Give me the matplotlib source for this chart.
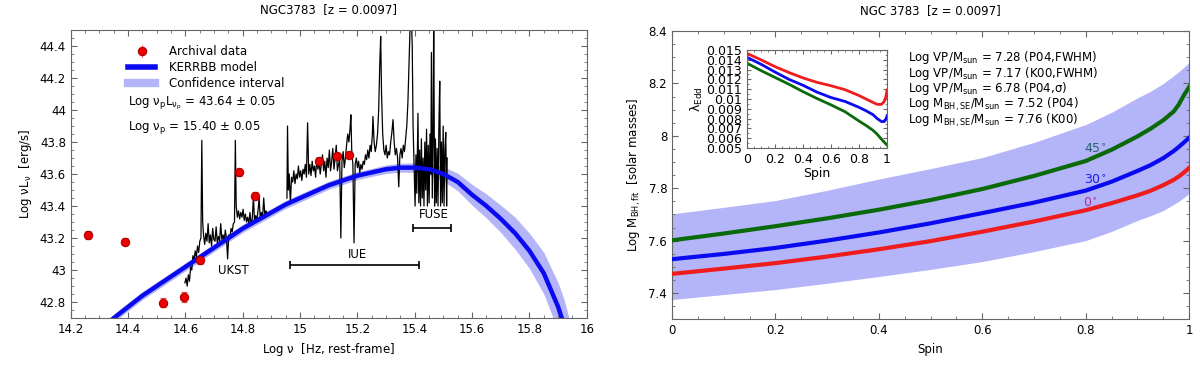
import numpy as np
import matplotlib
matplotlib.use('Agg')
import matplotlib.pyplot as plt
from matplotlib.ticker import MultipleLocator, FormatStrFormatter
from matplotlib.lines import Line2D

plt.rcParams['font.family'] = ['DejaVu Sans']
plt.rcParams['mathtext.default'] = 'regular'

# ---- left panel data: SED of NGC3783 ----
arch_x = [14.26, 14.39, 14.522, 14.595, 14.652, 14.785, 14.843, 15.066, 15.129, 15.17]
arch_y = [43.22, 43.177, 42.796, 42.83, 43.06, 43.61, 43.465, 43.68, 43.71, 43.72]
arch_err = [0.025, 0.022, 0.03, 0.03, 0.02, 0.02, 0.02, 0.015, 0.015, 0.015]

model_x = [14.30, 14.35, 14.40, 14.45, 14.50, 14.55, 14.60, 14.65, 14.70, 14.75,
           14.80, 14.85, 14.90, 14.95, 15.00, 15.05, 15.10, 15.15, 15.20, 15.25,
           15.30, 15.35, 15.40, 15.45, 15.50, 15.55, 15.60, 15.65, 15.70, 15.75,
           15.80, 15.85, 15.90, 15.92, 15.95]
model_y = [42.62, 42.70, 42.77, 42.84, 42.90, 42.96, 43.02, 43.08, 43.14, 43.20,
           43.26, 43.31, 43.36, 43.41, 43.45, 43.49, 43.53, 43.56, 43.59, 43.61,
           43.63, 43.64, 43.64, 43.63, 43.60, 43.55, 43.47, 43.40, 43.32, 43.23,
           43.12, 42.98, 42.77, 42.66, 42.45]
band_hw = [0.025, 0.025, 0.025, 0.025, 0.025, 0.025, 0.025, 0.025, 0.025, 0.025,
           0.025, 0.025, 0.025, 0.025, 0.025, 0.025, 0.025, 0.025, 0.025, 0.025,
           0.027, 0.028, 0.03, 0.035, 0.045, 0.055, 0.065, 0.075, 0.085, 0.10,
           0.11, 0.13, 0.15, 0.16, 0.17]

ukst_x = [14.598, 14.602, 14.606, 14.610, 14.614, 14.618, 14.622, 14.626, 14.630, 14.634,
          14.638, 14.642, 14.646, 14.650, 14.654, 14.657, 14.660, 14.663, 14.667, 14.671,
          14.675, 14.679, 14.683, 14.687, 14.691, 14.695, 14.699, 14.703, 14.707, 14.711,
          14.715, 14.719, 14.723, 14.727, 14.731, 14.735, 14.739, 14.743, 14.747, 14.751,
          14.755, 14.759, 14.763, 14.767, 14.771, 14.774, 14.777, 14.781, 14.785, 14.789,
          14.793, 14.797, 14.801, 14.805, 14.809, 14.813, 14.817, 14.821, 14.825, 14.829,
          14.833, 14.837, 14.841, 14.845, 14.849, 14.853, 14.857, 14.861, 14.865, 14.869,
          14.873, 14.877, 14.881, 14.885]
ukst_y = [42.92, 42.95, 42.90, 42.97, 42.93, 43.02, 43.00, 43.09, 43.06, 43.12,
          43.08, 43.15, 43.11, 43.18, 43.20, 43.81, 43.30, 43.22, 43.16, 43.23,
          43.18, 43.29, 43.17, 43.22, 43.15, 43.26, 43.19, 43.18, 43.27, 43.17,
          43.21, 43.18, 43.29, 43.19, 43.22, 43.18, 43.25, 43.20, 43.07, 43.22,
          43.20, 43.26, 43.24, 43.29, 43.30, 43.81, 43.40, 43.33, 43.37, 43.32,
          43.36, 43.33, 43.38, 43.31, 43.35, 43.30, 43.33, 43.29, 43.36, 43.28,
          43.32, 43.46, 43.30, 43.34, 43.31, 43.37, 43.45, 43.32, 43.36, 43.33,
          43.45, 43.34, 43.37, 43.35]

uv_x = [14.954, 14.956, 14.959, 14.962, 14.966, 14.970, 14.974, 14.978, 14.982, 14.986,
        14.990, 14.994, 14.998, 15.002, 15.006, 15.010, 15.014, 15.018, 15.022, 15.026,
        15.030, 15.034, 15.038, 15.042, 15.046, 15.050, 15.054, 15.058, 15.062, 15.066,
        15.070, 15.074, 15.078, 15.082, 15.086, 15.090, 15.094, 15.098, 15.102, 15.106,
        15.110, 15.114, 15.118, 15.122, 15.126, 15.130, 15.134, 15.138, 15.142, 15.146,
        15.150, 15.154, 15.158, 15.162, 15.166, 15.170, 15.174, 15.177, 15.180, 15.184,
        15.188, 15.192, 15.196, 15.200, 15.204, 15.208, 15.212, 15.216, 15.220, 15.224,
        15.228, 15.232, 15.236, 15.240, 15.244, 15.248, 15.252, 15.254, 15.258, 15.262,
        15.266, 15.270, 15.274, 15.278, 15.281, 15.284, 15.288, 15.292, 15.296, 15.300,
        15.304, 15.308, 15.312, 15.316, 15.320, 15.324, 15.328, 15.332, 15.336, 15.340,
        15.344, 15.348, 15.352, 15.356, 15.360, 15.364, 15.368, 15.372, 15.376, 15.380,
        15.384, 15.388, 15.391, 15.394, 15.398,
        15.401, 15.404, 15.407, 15.411, 15.414, 15.417, 15.420, 15.423, 15.426, 15.429,
        15.432, 15.435, 15.438, 15.441, 15.444, 15.447, 15.450, 15.453, 15.456, 15.458,
        15.461, 15.464, 15.466, 15.469, 15.472, 15.475, 15.478, 15.481, 15.484, 15.487,
        15.490, 15.493, 15.496, 15.499, 15.502, 15.505, 15.508, 15.511, 15.513]
uv_y = [43.45, 43.90, 43.50, 43.60, 43.42, 43.58, 43.55, 43.62, 43.54, 43.60,
        43.57, 43.65, 43.58, 43.62, 43.56, 43.63, 43.60, 43.66, 43.58, 43.92,
        43.60, 43.66, 43.59, 43.68, 43.62, 43.65, 43.58, 43.70, 43.63, 43.68,
        43.60, 43.66, 43.72, 43.62, 43.68, 43.58, 43.70, 43.64, 43.75, 43.62,
        43.68, 43.76, 43.63, 43.70, 43.78, 43.62, 43.66, 43.70, 43.20, 43.68,
        43.74, 43.64, 43.70, 43.78, 43.85, 43.80, 43.88, 43.97, 43.75, 43.66,
        43.17, 43.66, 43.70, 43.64, 43.68, 43.61, 43.66, 43.63, 43.68, 43.66,
        43.72, 43.69, 43.75, 43.70, 43.78, 43.74, 43.85, 43.96, 43.80, 43.74,
        43.78, 43.85, 44.00, 44.30, 44.46, 44.10, 43.85, 43.75, 43.72, 43.78,
        43.70, 43.74, 43.72, 43.80, 43.86, 43.94, 43.80, 43.72, 43.76, 43.70,
        43.52, 43.72, 43.76, 43.70, 43.78, 43.74, 43.82, 43.90, 44.05, 44.30,
        44.55, 44.60, 44.40, 43.90, 43.60,
        43.40, 43.72, 43.48, 43.98, 43.42, 43.75, 43.40, 43.82, 43.45, 43.70,
        43.40, 43.80, 43.50, 43.88, 43.40, 43.78, 43.42, 43.85, 43.60, 44.36,
        43.45, 43.90, 44.60, 43.40, 43.82, 43.42, 43.76, 43.40, 43.90, 44.18,
        43.40, 43.80, 43.42, 43.90, 43.40, 43.75, 43.86, 43.40, 43.70]

# ---- right panel data: BH mass vs spin ----
spin_band = [0, 0.1, 0.2, 0.3, 0.4, 0.5, 0.6, 0.7, 0.8, 0.85, 0.9, 0.925, 0.95, 0.98, 1.0]
band_up = [7.702, 7.727, 7.753, 7.792, 7.835, 7.875, 7.917, 7.975, 8.043, 8.09, 8.145, 8.17,
           8.20, 8.245, 8.28]
band_lo = [7.375, 7.394, 7.413, 7.437, 7.463, 7.49, 7.52, 7.558, 7.60, 7.635, 7.677, 7.695,
           7.715, 7.75, 7.78]

spin = [0, 0.1, 0.2, 0.3, 0.4, 0.5, 0.6, 0.7, 0.8, 0.85, 0.9, 0.925, 0.95, 0.97, 0.98, 0.99, 1.0]
mass_0 = [7.473, 7.493, 7.514, 7.539, 7.567, 7.598, 7.634, 7.673, 7.716, 7.743, 7.773, 7.79,
          7.812, 7.832, 7.845, 7.86, 7.878]
mass_30 = [7.529, 7.549, 7.572, 7.600, 7.631, 7.666, 7.705, 7.745, 7.791, 7.825, 7.866, 7.888,
           7.915, 7.942, 7.958, 7.975, 7.993]
mass_45 = [7.601, 7.627, 7.655, 7.685, 7.718, 7.755, 7.797, 7.847, 7.904, 7.947, 7.998, 8.027,
           8.06, 8.093, 8.12, 8.156, 8.187]

spin_in = [0, 0.1, 0.2, 0.3, 0.4, 0.5, 0.6, 0.7, 0.8, 0.85, 0.9, 0.93, 0.96, 0.98, 0.99, 1.0]
edd_0 = [0.01465, 0.01400, 0.01330, 0.01270, 0.01215, 0.01170, 0.01135, 0.01095, 0.01035, 0.01000,
         0.00965, 0.00945, 0.00945, 0.00975, 0.01010, 0.01090]
edd_30 = [0.01425, 0.01355, 0.01275, 0.01200, 0.01140, 0.01070, 0.01015, 0.00975, 0.00915, 0.00880,
          0.00840, 0.00800, 0.00770, 0.00770, 0.00790, 0.00825]
edd_45 = [0.01365, 0.01290, 0.01220, 0.01150, 0.01075, 0.01005, 0.00940, 0.00870, 0.00775, 0.00730,
          0.00680, 0.00640, 0.00590, 0.00560, 0.00545, 0.00530]

vp_lines = [r'Log VP/M$_{\rm sun}$ = 7.28 (P04,FWHM)',
            r'Log VP/M$_{\rm sun}$ = 7.17 (K00,FWHM)',
            r'Log VP/M$_{\rm sun}$ = 6.78 (P04,σ)',
            r'Log M$_{\rm BH,SE}$/M$_{\rm sun}$ = 7.52 (P04)',
            r'Log M$_{\rm BH,SE}$/M$_{\rm sun}$ = 7.76 (K00)']

band_col = '#b4b4f8'
blue = '#0a0af0'
red = '#ee1c1c'
green = '#0a6a0a'
spine_col = '#666666'


def style_axes(ax, xmaj, xmin, ymaj, ymin, fs=8.5):
    ax.xaxis.set_major_locator(MultipleLocator(xmaj))
    ax.xaxis.set_minor_locator(MultipleLocator(xmin))
    ax.yaxis.set_major_locator(MultipleLocator(ymaj))
    ax.yaxis.set_minor_locator(MultipleLocator(ymin))
    ax.xaxis.set_major_formatter(FormatStrFormatter('%g'))
    ax.yaxis.set_major_formatter(FormatStrFormatter('%g'))
    ax.tick_params(which='both', direction='in', top=True, right=True, colors=spine_col,
                   labelcolor='black', labelsize=fs)
    ax.tick_params(which='major', length=4)
    ax.tick_params(which='minor', length=2)
    for s in ax.spines.values():
        s.set_color(spine_col)


fig = plt.figure(figsize=(12, 3.66), dpi=100)

# ---------------- left panel ----------------
ax1 = fig.add_axes([0.059, 0.131, 0.43, 0.787])
mx = np.array(model_x)
my = np.array(model_y)
hw = np.array(band_hw)
ax1.fill_between(mx, my - hw, my + hw, color=band_col, lw=0, zorder=1)
ax1.plot(ukst_x, ukst_y, color='black', lw=0.9, zorder=2)
ax1.plot(uv_x, uv_y, color='black', lw=0.9, zorder=2)
ax1.plot(mx, my, color=blue, lw=3.2, zorder=3)
ax1.errorbar(arch_x, arch_y, yerr=arch_err, fmt='o', ms=6, mfc='#ee0000', mec='#aa0000',
             mew=0.8, ecolor='#ff4444', elinewidth=0.8, capsize=2, zorder=5)

# instrument coverage bars
ax1.errorbar([15.19], [43.03], xerr=[[0.225]], fmt='none', ecolor='black', elinewidth=1.2,
             capsize=3, capthick=1.2)
ax1.errorbar([15.46], [43.265], xerr=[[0.065]], fmt='none', ecolor='black', elinewidth=1.2,
             capsize=3, capthick=1.2)
ax1.text(14.768, 42.995, 'UKST', ha='center', va='center', fontsize=8.5)
ax1.text(15.2, 43.10, 'IUE', ha='center', va='center', fontsize=8.5)
ax1.text(15.465, 43.35, 'FUSE', ha='center', va='center', fontsize=8.5)

ax1.text(14.40, 44.04, r'Log $\nu_{\rm p}$L$_{\nu_{\rm p}}$ = 43.64 ± 0.05', ha='left',
         va='center', fontsize=8.5)
ax1.text(14.40, 43.89, r'Log $\nu_{\rm p}$ = 15.40 ± 0.05', ha='left', va='center', fontsize=8.5)

h_arch = ax1.errorbar([], [], yerr=[], fmt='o', ms=6, mfc='#ee0000', mec='#aa0000', mew=0.8,
                      ecolor='#ff4444', elinewidth=0.8, capsize=2)
h_model = Line2D([], [], color=blue, lw=4)
h_band = Line2D([], [], color=band_col, lw=6)
ax1.legend([h_arch, h_model, h_band], ['Archival data', 'KERRBB model', 'Confidence interval'],
           loc='upper left', bbox_to_anchor=(0.095, 0.975), frameon=False, fontsize=8.5,
           handlelength=2.3, handletextpad=1.2, labelspacing=0.25, borderpad=0.2)

ax1.set_xlim(14.2, 16)
ax1.set_ylim(42.7, 44.5)
style_axes(ax1, 0.2, 0.05, 0.2, 0.05)
ax1.set_xlabel(r'Log $\nu$  [Hz, rest-frame]', fontsize=8.5)
ax1.set_ylabel(r'Log $\nu$L$_{\nu}$  [erg/s]', fontsize=8.5)
ax1.set_title('NGC3783  [z = 0.0097]', fontsize=8.5, pad=12)

# ---------------- right panel ----------------
ax2 = fig.add_axes([0.56, 0.128, 0.431, 0.787])
ax2.fill_between(spin_band, band_lo, band_up, color=band_col, lw=0, zorder=1)
ax2.plot(spin, mass_0, color=red, lw=3, zorder=3)
ax2.plot(spin, mass_30, color=blue, lw=3, zorder=3)
ax2.plot(spin, mass_45, color=green, lw=3, zorder=3)
ax2.text(0.817, 7.949, r'45$^{\circ}$', color='#2a5f70', fontsize=9, ha='center', va='center')
ax2.text(0.817, 7.829, r'30$^{\circ}$', color='#1a1aee', fontsize=9, ha='center', va='center')
ax2.text(0.808, 7.743, r'0$^{\circ}$', color='#b0308a', fontsize=9, ha='center', va='center')

for i, t in enumerate(vp_lines):
    ax2.text(0.456, 8.30 - i * 0.06, t, ha='left', va='center', fontsize=8.5)

ax2.set_xlim(0, 1)
ax2.set_ylim(7.3, 8.4)
style_axes(ax2, 0.2, 0.05, 0.2, 0.05)
ax2.set_xlabel('Spin', fontsize=8.5)
ax2.set_ylabel(r'Log M$_{\rm BH,fit}$  [solar masses]', fontsize=8.5)
ax2.set_title('NGC 3783  [z = 0.0097]', fontsize=8.5, pad=12)

# inset: Eddington ratio vs spin
ax3 = fig.add_axes([0.6225, 0.5956, 0.1167, 0.2678])
ax3.plot(spin_in, edd_0, color=red, lw=2)
ax3.plot(spin_in, edd_30, color=blue, lw=2)
ax3.plot(spin_in, edd_45, color=green, lw=2)
ax3.set_xlim(0, 1)
ax3.set_ylim(0.005, 0.015)
style_axes(ax3, 0.2, 0.05, 0.001, 0.0005, fs=9)
ax3.tick_params(which='major', length=3)
ax3.tick_params(which='minor', length=1.5)
ax3.set_xlabel('Spin', fontsize=9, labelpad=1)
ax3.set_ylabel(r'$\lambda_{\rm Edd}$', fontsize=9, labelpad=1)

plt.savefig('out.png', dpi=100)
